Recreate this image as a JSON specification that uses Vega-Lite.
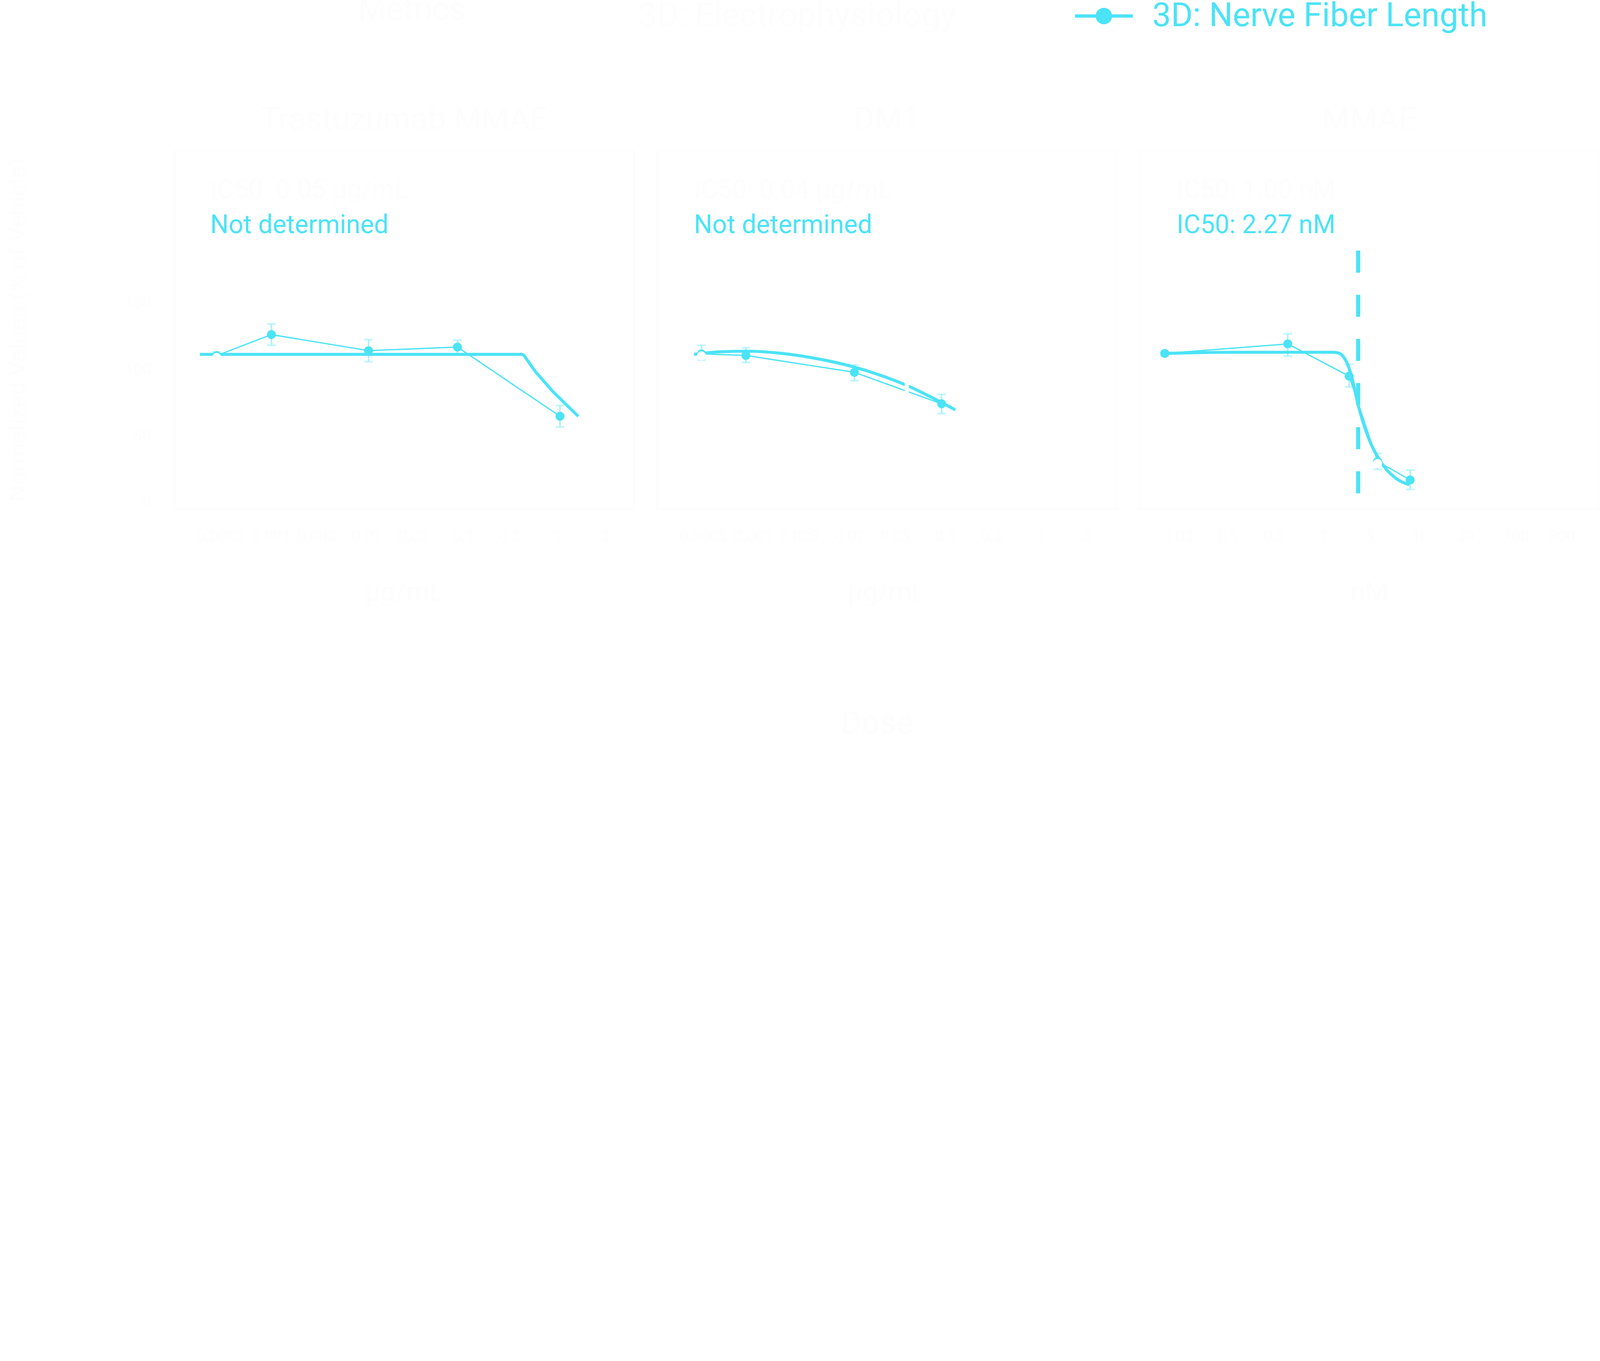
{
  "$schema": "https://vega.github.io/schema/vega-lite/v6.json",
  "background": "#ffffff",
  "padding": {"left": 15, "top": -33, "right": 0, "bottom": 0},
  "config": {
    "font": "Roboto",
    "view": {"stroke": "#fbfbfb", "strokeWidth": 1.6},
    "axis": {"grid": false, "ticks": false, "domainColor": "#fbfbfb", "domainWidth": 1.6, "labelColor": "#fdfdfd", "titleColor": "#fdfdfd", "labelFontSize": 39.5, "titleFontSize": 68, "titleFontWeight": "normal"},
    "title": {"fontWeight": "normal", "color": "#fdfdfd"}
  },
  "datasets": {
    "pts": [
      {"p": 1, "m": "3D: Nerve Fiber Length", "c": 0.000274, "v": 110.2, "lo": 107.5, "hi": 113},
      {"p": 1, "m": "3D: Nerve Fiber Length", "c": 0.001016, "v": 126, "lo": 118, "hi": 134},
      {"p": 1, "m": "3D: Nerve Fiber Length", "c": 0.0104, "v": 113.9, "lo": 105.6, "hi": 122.2},
      {"p": 1, "m": "3D: Nerve Fiber Length", "c": 0.0875, "v": 116.6, "lo": 111.3, "hi": 121.9},
      {"p": 1, "m": "3D: Nerve Fiber Length", "c": 1.02, "v": 64.5, "lo": 56.4, "hi": 72.6},
      {"p": 2, "m": "3D: Nerve Fiber Length", "c": 0.00029, "v": 111.5, "lo": 106.9, "hi": 117.9},
      {"p": 2, "m": "3D: Nerve Fiber Length", "c": 0.00084, "v": 110.3, "lo": 105, "hi": 116},
      {"p": 2, "m": "3D: Nerve Fiber Length", "c": 0.0113, "v": 97.6, "lo": 91.3, "hi": 103.1},
      {"p": 2, "m": "3D: Nerve Fiber Length", "c": 0.0912, "v": 73.9, "lo": 66.5, "hi": 81},
      {"p": 3, "m": "3D: Nerve Fiber Length", "c": 0.022, "v": 111.8, "lo": 110, "hi": 113.6},
      {"p": 3, "m": "3D: Nerve Fiber Length", "c": 0.42, "v": 119, "lo": 109.8, "hi": 126.6},
      {"p": 3, "m": "3D: Nerve Fiber Length", "c": 1.83, "v": 94.7, "lo": 86.6, "hi": 103.7},
      {"p": 3, "m": "3D: Nerve Fiber Length", "c": 3.62, "v": 30.5, "lo": 24.5, "hi": 36.5},
      {"p": 3, "m": "3D: Nerve Fiber Length", "c": 7.9, "v": 16.6, "lo": 9.4, "hi": 24},
      {"p": 1, "m": "3D: Electrophysiology", "c": 0.000274, "v": 108.8},
      {"p": 1, "m": "3D: Electrophysiology", "c": 0.001016, "v": 103},
      {"p": 1, "m": "3D: Electrophysiology", "c": 0.0104, "v": 85},
      {"p": 1, "m": "3D: Electrophysiology", "c": 0.0875, "v": 58},
      {"p": 1, "m": "3D: Electrophysiology", "c": 1.02, "v": 42},
      {"p": 2, "m": "3D: Electrophysiology", "c": 0.00029, "v": 110},
      {"p": 2, "m": "3D: Electrophysiology", "c": 0.00084, "v": 100},
      {"p": 2, "m": "3D: Electrophysiology", "c": 0.0113, "v": 86},
      {"p": 2, "m": "3D: Electrophysiology", "c": 0.0912, "v": 60},
      {"p": 3, "m": "3D: Electrophysiology", "c": 0.022, "v": 103},
      {"p": 3, "m": "3D: Electrophysiology", "c": 0.42, "v": 95},
      {"p": 3, "m": "3D: Electrophysiology", "c": 1.83, "v": 62},
      {"p": 3, "m": "3D: Electrophysiology", "c": 3.62, "v": 29},
      {"p": 3, "m": "3D: Electrophysiology", "c": 7.9, "v": 4}
    ],
    "fits": [
      {"p": 1, "k": "N", "c": 0.000183, "v": 111.1},
      {"p": 1, "k": "N", "c": 0.01, "v": 111.1},
      {"p": 1, "k": "N", "c": 0.409, "v": 111.1},
      {"p": 1, "k": "N", "c": 0.43, "v": 110.4},
      {"p": 1, "k": "N", "c": 0.565, "v": 98.2},
      {"p": 1, "k": "N", "c": 0.853, "v": 83.4},
      {"p": 1, "k": "N", "c": 1.186, "v": 73.2},
      {"p": 1, "k": "N", "c": 1.58, "v": 64.5},
      {"p": 1, "k": "E", "c": 0.000183, "v": 110.5},
      {"p": 1, "k": "E", "c": 0.001, "v": 106},
      {"p": 1, "k": "E", "c": 0.01, "v": 90},
      {"p": 1, "k": "E", "c": 0.048, "v": 72},
      {"p": 1, "k": "E", "c": 0.2, "v": 55},
      {"p": 1, "k": "E", "c": 1.58, "v": 40},
      {"p": 2, "k": "N", "c": 0.000242, "v": 111.1},
      {"p": 2, "k": "N", "c": 0.00045, "v": 113},
      {"p": 2, "k": "N", "c": 0.00084, "v": 113.5},
      {"p": 2, "k": "N", "c": 0.0019, "v": 112},
      {"p": 2, "k": "N", "c": 0.00398, "v": 108.7},
      {"p": 2, "k": "N", "c": 0.01155, "v": 101.3},
      {"p": 2, "k": "N", "c": 0.0396, "v": 87.7},
      {"p": 2, "k": "N", "c": 0.1267, "v": 69.3},
      {"p": 2, "k": "E", "c": 0.000242, "v": 109},
      {"p": 2, "k": "E", "c": 0.001, "v": 104},
      {"p": 2, "k": "E", "c": 0.01, "v": 90},
      {"p": 2, "k": "E", "c": 0.04, "v": 76},
      {"p": 2, "k": "E", "c": 0.1267, "v": 58},
      {"p": 3, "k": "N", "c": 0.022, "v": 111.8},
      {"p": 3, "k": "N", "c": 0.109, "v": 112.7},
      {"p": 3, "k": "N", "c": 1.22, "v": 112.7},
      {"p": 3, "k": "N", "c": 1.39, "v": 112.3},
      {"p": 3, "k": "N", "c": 1.7, "v": 106.1},
      {"p": 3, "k": "N", "c": 1.93, "v": 95.2},
      {"p": 3, "k": "N", "c": 2.27, "v": 73},
      {"p": 3, "k": "N", "c": 2.9, "v": 48.5},
      {"p": 3, "k": "N", "c": 4.02, "v": 28.9},
      {"p": 3, "k": "N", "c": 5.58, "v": 17.9},
      {"p": 3, "k": "N", "c": 7.75, "v": 12.9},
      {"p": 3, "k": "E", "c": 0.022, "v": 106},
      {"p": 3, "k": "E", "c": 0.3, "v": 100},
      {"p": 3, "k": "E", "c": 1, "v": 80},
      {"p": 3, "k": "E", "c": 2, "v": 55},
      {"p": 3, "k": "E", "c": 4, "v": 30},
      {"p": 3, "k": "E", "c": 7.9, "v": 8}
    ],
    "ic": [
      {"p": 1, "k": "E", "c": 0.048, "y1": 190, "y2": 5},
      {"p": 2, "k": "E", "c": 0.0396, "y1": 190.8, "y2": 9.4},
      {"p": 3, "k": "E", "c": 1, "y1": 189.2, "y2": 5.6},
      {"p": 3, "k": "N", "c": 2.27, "y1": 189.2, "y2": 5.6}
    ],
    "txt": [
      {"p": 1, "k": "N", "c": 0.000235, "v": 208.4, "t": "Not determined"},
      {"p": 1, "k": "E", "c": 0.000235, "v": 234.8, "t": "IC50: 0.05 µg/mL"},
      {"p": 2, "k": "N", "c": 0.000242, "v": 208.4, "t": "Not determined"},
      {"p": 2, "k": "E", "c": 0.000242, "v": 234.8, "t": "IC50: 0.04 µg/mL"},
      {"p": 3, "k": "N", "c": 0.0293, "v": 208.4, "t": "IC50: 2.27 nM"},
      {"p": 3, "k": "E", "c": 0.0293, "v": 234.8, "t": "IC50: 1.00 nM"}
    ]
  },
  "title": {"text": "Dose", "orient": "bottom", "anchor": "middle", "fontSize": 82, "offset": 260, "dx": 190},
  "spacing": 57,
  "hconcat": [
    {
      "width": 1176,
      "height": 920,
      "title": {"text": "Trastuzumab MMAE", "fontSize": 81, "offset": 35},
      "encoding": {
        "x": {"field": "c", "type": "quantitative", "title": "µg/mL", "scale": {"type": "log", "domain": [0.0001, 6], "nice": false}, "axis": {"values": [0.0003, 0.001, 0.003, 0.01, 0.03, 0.1, 0.3, 1, 3], "format": "~g", "labelPadding": 50, "titlePadding": 92}},
        "y": {"field": "v", "type": "quantitative", "title": "Normalized Values (% of Vehicle)", "scale": {"domain": [-5.5, 265], "nice": false, "zero": false}, "axis": {"values": [0, 50, 100, 150], "labelPadding": 61, "titlePadding": 242, "titleFontSize": 60}}
      },
      "layer": [
        {"data": {"name": "fits"}, "transform": [{"filter": "datum.p === 1 && datum.k === 'E'"}], "mark": {"type": "line", "color": "#ffffff", "strokeWidth": 7.7, "interpolate": "monotone"}},
        {"data": {"name": "pts"}, "transform": [{"filter": "datum.p === 1 && datum.m === '3D: Electrophysiology'"}], "mark": {"type": "line", "color": "#ffffff", "strokeWidth": 3.3}},
        {"data": {"name": "ic"}, "transform": [{"filter": "datum.p === 1 && datum.k === 'E'"}], "mark": {"type": "rule", "color": "#ffffff", "strokeWidth": 10.4, "strokeDash": [56.5, 56.5]}, "encoding": {"y": {"field": "y1", "type": "quantitative", "title": "Normalized Values (% of Vehicle)"}, "y2": {"field": "y2"}}},
        {"data": {"name": "pts"}, "transform": [{"filter": "datum.p === 1 && datum.m === '3D: Nerve Fiber Length'"}], "mark": {"type": "errorbar", "color": "#a7f1fb", "thickness": 3.8, "ticks": {"size": 22, "thickness": 4.4}}, "encoding": {"y": {"field": "lo", "type": "quantitative", "title": "Normalized Values (% of Vehicle)"}, "y2": {"field": "hi"}}},
        {"data": {"name": "pts"}, "transform": [{"filter": "datum.p === 1 && datum.m === '3D: Nerve Fiber Length'"}], "mark": {"type": "line", "color": "#4be3f6", "strokeWidth": 3.3}},
        {"data": {"name": "fits"}, "transform": [{"filter": "datum.p === 1 && datum.k === 'N'"}], "mark": {"type": "line", "color": "#4be3f6", "strokeWidth": 7.7}},
        {"data": {"name": "pts"}, "transform": [{"filter": "datum.p === 1"}], "mark": {"type": "point", "filled": true, "size": 521, "opacity": 1},
          "encoding": {"color": {"field": "m", "type": "nominal", "scale": {"domain": ["3D: Electrophysiology", "3D: Nerve Fiber Length"], "range": ["#ffffff", "#4be3f6"]},
            "legend": {"title": "Metrics", "orient": "none", "legendX": 470, "legendY": -417, "direction": "horizontal", "titleOrient": "left", "titleColor": "#fdfdfd", "titleFontSize": 82, "titleFontWeight": "normal", "titlePadding": 244, "titleLimit": 0, "labelLimit": 0, "labelFontSize": 85, "labelOffset": 50, "columnPadding": 305, "symbolSize": 21904, "symbolStrokeWidth": 0, "symbolOpacity": 1, "symbolType": "M-1,-0.056L1,-0.056L1,0.056L-1,0.056Z M-0.285,0A0.285,0.285,0,1,1,0.285,0A0.285,0.285,0,1,1,-0.285,0Z", "labelColor": {"expr": "datum.label === '3D: Nerve Fiber Length' ? '#4be3f6' : '#fdfdfd'"}}}}},
        {"data": {"name": "txt"}, "transform": [{"filter": "datum.p === 1"}], "mark": {"type": "text", "align": "left", "baseline": "middle", "fontSize": 66},
          "encoding": {"text": {"field": "t"}, "color": {"condition": {"test": "datum.k === 'E'", "value": "#fdfdfd"}, "value": "#4be3f6"}}}
      ]
    },
    {
      "width": 1176,
      "height": 920,
      "title": {"text": "DM1", "fontSize": 81, "offset": 35},
      "encoding": {
        "x": {"field": "c", "type": "quantitative", "title": "µg/mL", "scale": {"type": "log", "domain": [0.0001, 6], "nice": false}, "axis": {"values": [0.0003, 0.001, 0.003, 0.01, 0.03, 0.1, 0.3, 1, 3], "format": "~g", "labelPadding": 50, "titlePadding": 92}},
        "y": {"field": "v", "type": "quantitative", "scale": {"domain": [-5.5, 265], "nice": false, "zero": false}, "axis": null}
      },
      "layer": [
        {"data": {"name": "fits"}, "transform": [{"filter": "datum.p === 2 && datum.k === 'E'"}], "mark": {"type": "line", "color": "#ffffff", "strokeWidth": 7.7, "interpolate": "monotone"}},
        {"data": {"name": "pts"}, "transform": [{"filter": "datum.p === 2 && datum.m === '3D: Electrophysiology'"}], "mark": {"type": "line", "color": "#ffffff", "strokeWidth": 3.3}},
        {"data": {"name": "pts"}, "transform": [{"filter": "datum.p === 2 && datum.m === '3D: Nerve Fiber Length'"}], "mark": {"type": "errorbar", "color": "#a7f1fb", "thickness": 3.8, "ticks": {"size": 22, "thickness": 4.4}}, "encoding": {"y": {"field": "lo", "type": "quantitative", "axis": null}, "y2": {"field": "hi"}}},
        {"data": {"name": "pts"}, "transform": [{"filter": "datum.p === 2 && datum.m === '3D: Nerve Fiber Length'"}], "mark": {"type": "line", "color": "#4be3f6", "strokeWidth": 3.3}},
        {"data": {"name": "fits"}, "transform": [{"filter": "datum.p === 2 && datum.k === 'N'"}], "mark": {"type": "line", "color": "#4be3f6", "strokeWidth": 7.7, "interpolate": "monotone"}},
        {"data": {"name": "ic"}, "transform": [{"filter": "datum.p === 2 && datum.k === 'E'"}], "mark": {"type": "rule", "color": "#ffffff", "strokeWidth": 10.4, "strokeDash": [56.5, 56.5]}, "encoding": {"y": {"field": "y1", "type": "quantitative", "axis": null}, "y2": {"field": "y2"}}},
        {"data": {"name": "pts"}, "transform": [{"filter": "datum.p === 2"}], "mark": {"type": "point", "filled": true, "size": 521, "opacity": 1},
          "encoding": {"color": {"field": "m", "type": "nominal", "scale": {"domain": ["3D: Electrophysiology", "3D: Nerve Fiber Length"], "range": ["#ffffff", "#4be3f6"]},
            "legend": {"title": "Metrics", "orient": "none", "legendX": 470, "legendY": -417, "direction": "horizontal", "titleOrient": "left", "titleColor": "#fdfdfd", "titleFontSize": 82, "titleFontWeight": "normal", "titlePadding": 244, "titleLimit": 0, "labelLimit": 0, "labelFontSize": 85, "labelOffset": 50, "columnPadding": 305, "symbolSize": 21904, "symbolStrokeWidth": 0, "symbolOpacity": 1, "symbolType": "M-1,-0.056L1,-0.056L1,0.056L-1,0.056Z M-0.285,0A0.285,0.285,0,1,1,0.285,0A0.285,0.285,0,1,1,-0.285,0Z", "labelColor": {"expr": "datum.label === '3D: Nerve Fiber Length' ? '#4be3f6' : '#fdfdfd'"}}}}},
        {"data": {"name": "txt"}, "transform": [{"filter": "datum.p === 2"}], "mark": {"type": "text", "align": "left", "baseline": "middle", "fontSize": 66},
          "encoding": {"text": {"field": "t"}, "color": {"condition": {"test": "datum.k === 'E'", "value": "#fdfdfd"}, "value": "#4be3f6"}}}
      ]
    },
    {
      "width": 1176,
      "height": 920,
      "title": {"text": "MMAE", "fontSize": 81, "offset": 35},
      "encoding": {
        "x": {"field": "c", "type": "quantitative", "title": "nM", "scale": {"type": "log", "domain": [0.012, 728], "nice": false}, "axis": {"values": [0.03, 0.1, 0.3, 1, 3, 10, 30, 100, 300], "format": "~g", "labelPadding": 50, "titlePadding": 92}},
        "y": {"field": "v", "type": "quantitative", "scale": {"domain": [-5.5, 265], "nice": false, "zero": false}, "axis": null}
      },
      "layer": [
        {"data": {"name": "fits"}, "transform": [{"filter": "datum.p === 3 && datum.k === 'E'"}], "mark": {"type": "line", "color": "#ffffff", "strokeWidth": 7.7, "interpolate": "monotone"}},
        {"data": {"name": "pts"}, "transform": [{"filter": "datum.p === 3 && datum.m === '3D: Electrophysiology'"}], "mark": {"type": "line", "color": "#ffffff", "strokeWidth": 3.3}},
        {"data": {"name": "ic"}, "transform": [{"filter": "datum.p === 3 && datum.k === 'E'"}], "mark": {"type": "rule", "color": "#ffffff", "strokeWidth": 10.4, "strokeDash": [56.5, 56.5]}, "encoding": {"y": {"field": "y1", "type": "quantitative", "axis": null}, "y2": {"field": "y2"}}},
        {"data": {"name": "pts"}, "transform": [{"filter": "datum.p === 3 && datum.m === '3D: Nerve Fiber Length'"}], "mark": {"type": "errorbar", "color": "#a7f1fb", "thickness": 3.8, "ticks": {"size": 22, "thickness": 4.4}}, "encoding": {"y": {"field": "lo", "type": "quantitative", "axis": null}, "y2": {"field": "hi"}}},
        {"data": {"name": "pts"}, "transform": [{"filter": "datum.p === 3 && datum.m === '3D: Nerve Fiber Length'"}], "mark": {"type": "line", "color": "#4be3f6", "strokeWidth": 3.3}},
        {"data": {"name": "fits"}, "transform": [{"filter": "datum.p === 3 && datum.k === 'N'"}], "mark": {"type": "line", "color": "#4be3f6", "strokeWidth": 7.7, "interpolate": "monotone"}},
        {"data": {"name": "ic"}, "transform": [{"filter": "datum.p === 3 && datum.k === 'N'"}], "mark": {"type": "rule", "color": "#4be3f6", "strokeWidth": 10.4, "strokeDash": [56.5, 56.5]}, "encoding": {"y": {"field": "y1", "type": "quantitative", "axis": null}, "y2": {"field": "y2"}}},
        {"data": {"name": "pts"}, "transform": [{"filter": "datum.p === 3"}], "mark": {"type": "point", "filled": true, "size": 521, "opacity": 1},
          "encoding": {"color": {"field": "m", "type": "nominal", "scale": {"domain": ["3D: Electrophysiology", "3D: Nerve Fiber Length"], "range": ["#ffffff", "#4be3f6"]},
            "legend": {"title": "Metrics", "orient": "none", "legendX": 470, "legendY": -417, "direction": "horizontal", "titleOrient": "left", "titleColor": "#fdfdfd", "titleFontSize": 82, "titleFontWeight": "normal", "titlePadding": 244, "titleLimit": 0, "labelLimit": 0, "labelFontSize": 85, "labelOffset": 50, "columnPadding": 305, "symbolSize": 21904, "symbolStrokeWidth": 0, "symbolOpacity": 1, "symbolType": "M-1,-0.056L1,-0.056L1,0.056L-1,0.056Z M-0.285,0A0.285,0.285,0,1,1,0.285,0A0.285,0.285,0,1,1,-0.285,0Z", "labelColor": {"expr": "datum.label === '3D: Nerve Fiber Length' ? '#4be3f6' : '#fdfdfd'"}}}}},
        {"data": {"name": "txt"}, "transform": [{"filter": "datum.p === 3"}], "mark": {"type": "text", "align": "left", "baseline": "middle", "fontSize": 66},
          "encoding": {"text": {"field": "t"}, "color": {"condition": {"test": "datum.k === 'E'", "value": "#fdfdfd"}, "value": "#4be3f6"}}}
      ]
    }
  ]
}
